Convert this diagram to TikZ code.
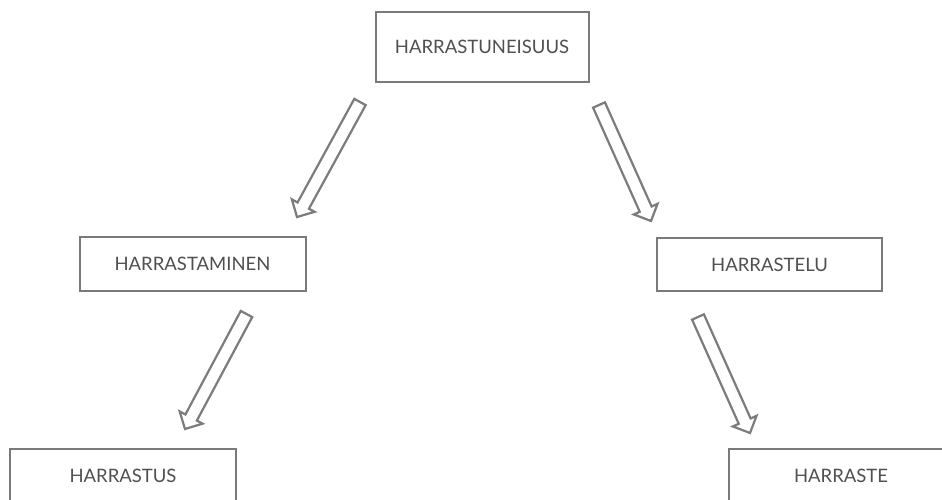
\documentclass[tikz,border=0pt]{standalone}
\usepackage{fontspec}
\setmainfont{Lato}
\usetikzlibrary{calc}
\definecolor{boxline}{HTML}{7A7A7A}
\definecolor{boxtext}{HTML}{505050}
\definecolor{arrline}{HTML}{7C7C7C}
\tikzset{
  termbox/.style={draw=boxline, line width=2pt, fill=white, text=boxtext,
    font=\fontsize{18.5}{22}\selectfont, minimum width=#1, inner sep=0pt},
  blockarrow/.style={draw=arrline, line width=2.2pt, fill=white, line join=miter},
}
\newcommand{\hollowarrow}[2]{%
  \draw[blockarrow]
    ($(#1)!6.5pt!90:(#2)$) --
    ($($(#2)!13pt!(#1)$)!6.5pt!90:(#2)$) --
    ($($(#2)!13pt!(#1)$)!13pt!90:(#2)$) --
    (#2) --
    ($($(#2)!13pt!(#1)$)!13pt!-90:(#2)$) --
    ($($(#2)!13pt!(#1)$)!6.5pt!-90:(#2)$) --
    ($(#1)!6.5pt!-90:(#2)$) -- cycle;}
\begin{document}
\begin{tikzpicture}[x=1pt,y=-1pt]
\useasboundingbox (0,0) rectangle (942,500);
\clip (0,0) rectangle (942,500);
\fill[white] (0,0) rectangle (942,500);
\node[termbox=213pt, minimum height=70pt] (top) at (482,47) {HARRASTUNEISUUS};
\node[termbox=226pt, minimum height=54pt] (lm) at (192.5,264) {HARRASTAMINEN};
\node[termbox=225pt, minimum height=53pt] (rm) at (769.5,264.5) {HARRASTELU};
\node[termbox=226pt, minimum height=54pt] (lb) at (123,476) {HARRASTUS};
\node[termbox=224pt, minimum height=54pt] (rb) at (841,476) {HARRASTE};
\coordinate (a1s) at (360,102);
\coordinate (a1e) at (297,217);
\coordinate (a2s) at (599,105);
\coordinate (a2e) at (651,221);
\coordinate (a3s) at (246.5,314);
\coordinate (a3e) at (185,429);
\coordinate (a4s) at (698,317);
\coordinate (a4e) at (750,433);
\hollowarrow{a1s}{a1e}
\hollowarrow{a2s}{a2e}
\hollowarrow{a3s}{a3e}
\hollowarrow{a4s}{a4e}
\end{tikzpicture}
\end{document}
